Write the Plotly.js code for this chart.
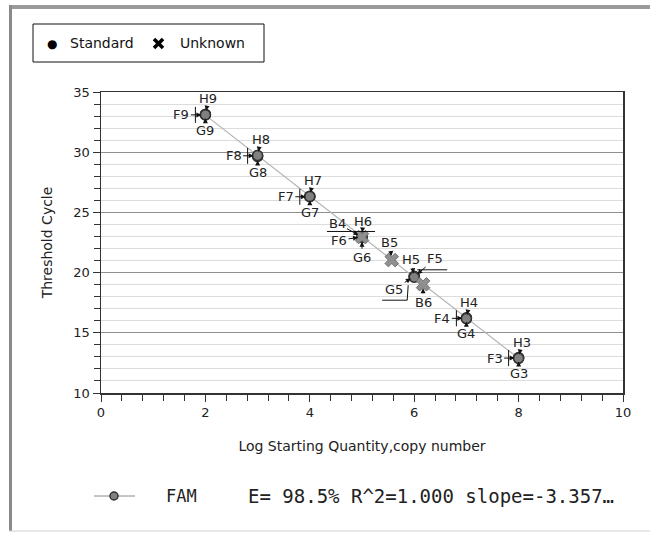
<!DOCTYPE html>
<html>
<head>
<meta charset="utf-8">
<script src="https://cdn.plot.ly/plotly-3.0.1.min.js"></script>
<style>html,body{margin:0;padding:0;background:#fff;}#chart{width:650px;height:533px;}</style>
</head>
<body>
<div id="chart"></div>
<script>
// ---- data ----
const logQty = [2, 3, 4, 5, 6, 7, 8];
const ctF = [33.10, 29.70, 26.30, 22.95, 19.65, 16.20, 12.90];
const ctG = [33.15, 29.65, 26.35, 22.90, 19.70, 16.25, 12.95];
const ctH = [33.12, 29.72, 26.32, 23.00, 19.62, 16.18, 12.88];
const wellF = ['F9', 'F8', 'F7', 'F6', 'F5', 'F4', 'F3'];
const wellG = ['G9', 'G8', 'G7', 'G6', 'G5', 'G4', 'G3'];
const wellH = ['H9', 'H8', 'H7', 'H6', 'H5', 'H4', 'H3'];
const unkQty = [5.00, 5.57, 6.17];
const unkCt = [22.95, 21.04, 19.03];
const unkWell = ['B4', 'B5', 'B6'];
const legendNames = ['Standard', 'Unknown'];
const dyeName = 'FAM';
const fitText = 'E= 98.5% R^2=1.000 slope=-3.357…';
const xTitle = 'Log Starting Quantity,copy number';
const yTitle = 'Threshold Cycle';

// ---- layout geometry ----
const L = 101, R = 27, T = 92, Bm = 140, W = 650, Hh = 533;
const PW = W - L - R, PH = Hh - T - Bm;
const px = v => (v - L) / PW;
const py = v => (Hh - Bm - v) / PH;

// ---- fit line from standards ----
const allX = [], allY = [], allLab = [];
[[ctF, wellF], [ctG, wellG], [ctH, wellH]].forEach(([c, w]) => {
  logQty.forEach((x, i) => { allX.push(x); allY.push(c[i]); allLab.push(w[i]); });
});
const n = allX.length;
const mx = allX.reduce((a, b) => a + b, 0) / n;
const my = allY.reduce((a, b) => a + b, 0) / n;
let sxy = 0, sxx = 0;
for (let i = 0; i < n; i++) { sxy += (allX[i] - mx) * (allY[i] - my); sxx += (allX[i] - mx) ** 2; }
const slope = sxy / sxx, icpt = my - slope * mx;
const fx = [Math.min(...logQty), Math.max(...logQty)];
const fy = fx.map(x => icpt + slope * x);

const traces = [
  { x: fx, y: fy, mode: 'lines', line: { color: '#b4b4b4', width: 1.2 }, hoverinfo: 'skip', showlegend: false },
  { x: allX, y: allY, text: allLab, mode: 'markers', showlegend: false,
    marker: { symbol: 'circle', size: 10, color: '#808080', line: { color: '#333', width: 1.5 } } },
  { x: unkQty, y: unkCt, text: unkWell, mode: 'markers', showlegend: false,
    marker: { symbol: 'x', size: 12, color: '#8f8f8f', line: { color: '#707070', width: 1 } } }
];

// ---- point labels ----
const defOff = { F: [-24, 0], G: [0, 16], H: [3, -16], B: [0, -18] };
const special = {
  H6: [1, -15], F6: [-23, 3], G6: [0, 20],
  H5: [-3, -18], F5: [21, -18], G5: [-20, 13],
  B4: [-25, -14], B5: [-2, -18], B6: [0, 18]
};
const annotations = [];
function addLabel(x, y, lab) {
  const off = special[lab] || defOff[lab[0]];
  annotations.push({ x: x, y: y, xref: 'x', yref: 'y', text: lab, showarrow: true,
    ax: off[0], ay: off[1], arrowhead: 2, arrowsize: 1, arrowwidth: 1, arrowcolor: '#111', standoff: 4,
    font: { family: 'DejaVu Sans', size: 13, color: '#222' } });
}
logQty.forEach((x, i) => {
  addLabel(x, ctH[i], wellH[i]);
  addLabel(x, ctF[i], wellF[i]);
  addLabel(x, ctG[i], wellG[i]);
});
unkQty.forEach((x, i) => addLabel(x, unkCt[i], unkWell[i]));

// ---- leader-line decorations anchored to data ----
const shapes = [];
logQty.forEach((x, i) => {
  if (i === 3 || i === 4) return;
  shapes.push({ type: 'line', xref: 'x', yref: 'y', xsizemode: 'pixel', ysizemode: 'pixel',
    xanchor: x, yanchor: ctF[i], x0: -10, x1: -10, y0: -8, y1: 8, line: { color: '#111', width: 1 } });
});
shapes.push({ type: 'line', xref: 'x', yref: 'y', xsizemode: 'pixel', ysizemode: 'pixel',
  xanchor: logQty[3], yanchor: ctH[3], x0: -35, x1: 13, y0: 5, y1: 5, line: { color: '#111', width: 1 } });
shapes.push({ type: 'line', xref: 'x', yref: 'y', xsizemode: 'pixel', ysizemode: 'pixel',
  xanchor: logQty[4], yanchor: ctF[4], x0: 3, x1: 33, y0: 7, y1: 7, line: { color: '#111', width: 1 } });
shapes.push({ type: 'path', xref: 'x', yref: 'y', xsizemode: 'pixel', ysizemode: 'pixel',
  xanchor: logQty[4], yanchor: ctG[4], path: 'M -32,-24 L -7,-24 L -6,-9', line: { color: '#111', width: 1 } });

// ---- outer frame ----
shapes.push({ type: 'rect', xref: 'paper', yref: 'paper', x0: px(9), x1: px(650), y0: py(9), y1: py(5),
  fillcolor: '#9a9a9a', line: { width: 0 }, layer: 'below' });
shapes.push({ type: 'rect', xref: 'paper', yref: 'paper', x0: px(9), x1: px(12), y0: py(531), y1: py(5),
  fillcolor: '#8a8a8a', line: { width: 0 }, layer: 'below' });
shapes.push({ type: 'line', xref: 'paper', yref: 'paper', x0: px(9), x1: px(650), y0: py(531), y1: py(531),
  line: { color: '#d0d0d0', width: 1 } });

// ---- top legend ----
shapes.push({ type: 'rect', xref: 'paper', yref: 'paper', x0: px(33), x1: px(264), y0: py(62), y1: py(24),
  line: { color: '#111', width: 1 }, fillcolor: 'rgba(0,0,0,0)' });
const legFont = { family: 'DejaVu Sans', size: 14, color: '#111' };
annotations.push({ xref: 'paper', yref: 'paper', x: px(52), y: py(44), text: '●', showarrow: false,
  xanchor: 'center', yanchor: 'middle', font: { family: 'DejaVu Sans', size: 12, color: '#000' } });
annotations.push({ xref: 'paper', yref: 'paper', x: px(68), y: py(43), text: legendNames[0], showarrow: false,
  xanchor: 'left', yanchor: 'middle', font: legFont });
shapes.push({ type: 'line', xref: 'paper', yref: 'paper', x0: px(154), x1: px(163), y0: py(39), y1: py(48),
  line: { color: '#000', width: 3.5 } });
shapes.push({ type: 'line', xref: 'paper', yref: 'paper', x0: px(154), x1: px(163), y0: py(48), y1: py(39),
  line: { color: '#000', width: 3.5 } });
annotations.push({ xref: 'paper', yref: 'paper', x: px(178), y: py(43), text: legendNames[1], showarrow: false,
  xanchor: 'left', yanchor: 'middle', font: legFont });

// ---- bottom legend ----
shapes.push({ type: 'line', xref: 'paper', yref: 'paper', x0: px(94), x1: px(135), y0: py(496), y1: py(496),
  line: { color: '#8a8a8a', width: 1 } });
shapes.push({ type: 'circle', xref: 'paper', yref: 'paper', x0: px(110), x1: px(118), y0: py(500), y1: py(492),
  fillcolor: '#808080', line: { color: '#333', width: 1.5 } });
annotations.push({ xref: 'paper', yref: 'paper', x: px(164), y: py(496), text: dyeName, showarrow: false,
  xanchor: 'left', yanchor: 'middle', font: { family: 'DejaVu Sans Mono', size: 17, color: '#222' } });
annotations.push({ xref: 'paper', yref: 'paper', x: px(246), y: py(496), text: fitText, showarrow: false,
  xanchor: 'left', yanchor: 'middle', font: { family: 'DejaVu Sans Mono', size: 19, color: '#222' } });

const tickFont = { family: 'DejaVu Sans', size: 13, color: '#222' };
const titleFont = { family: 'DejaVu Sans', size: 14, color: '#222' };
const layout = {
  width: W, height: Hh,
  margin: { l: L, r: R, t: T, b: Bm, pad: 0 },
  paper_bgcolor: '#fff', plot_bgcolor: '#fff',
  showlegend: false,
  xaxis: {
    range: [0, 10], tick0: 0, dtick: 2, ticks: 'outside', ticklen: 7, tickcolor: '#333', tickwidth: 1,
    showgrid: false, zeroline: false, showline: true, linecolor: '#333', linewidth: 1.5, mirror: true,
    minor: { dtick: 0.4, ticks: 'outside', ticklen: 6, tickcolor: '#333', showgrid: false },
    tickfont: tickFont,
    title: { text: xTitle, font: titleFont, standoff: 22 }
  },
  yaxis: {
    range: [10, 35], tick0: 10, dtick: 5, ticks: 'outside', ticklen: 7, tickcolor: '#333', tickwidth: 1,
    showgrid: true, gridcolor: '#8f8f8f', gridwidth: 1, zeroline: false,
    showline: true, linecolor: '#333', linewidth: 1.5, mirror: true,
    minor: { dtick: 1, ticks: 'outside', ticklen: 6, tickcolor: '#333', showgrid: true, gridcolor: '#dcdcdc', gridwidth: 1 },
    tickfont: tickFont,
    title: { text: yTitle, font: titleFont, standoff: 17 }
  },
  shapes: shapes,
  annotations: annotations
};
Plotly.newPlot('chart', traces, layout, { displayModeBar: false, staticPlot: true });
</script>
</body>
</html>
